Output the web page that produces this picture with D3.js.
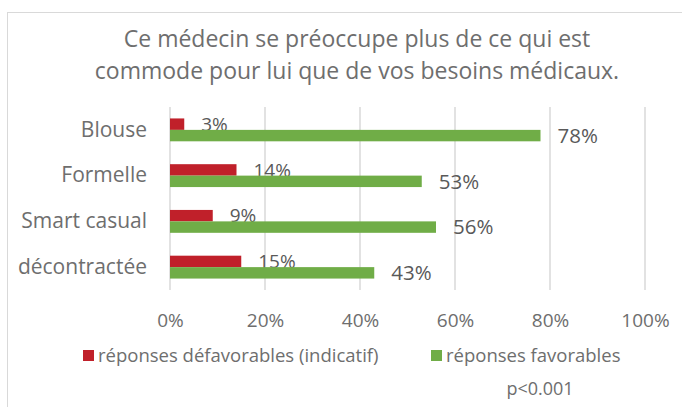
<!DOCTYPE html>
<html>
<head>
<meta charset="utf-8">
<script src="https://cdn.jsdelivr.net/npm/d3@7"></script>
<style>
  body { margin: 0; background: #fff; }
  svg text { font-family: "Open Sans", sans-serif; fill: #6e6e6e; }
  svg .value { fill: #595959; }
</style>
</head>
<body>
<svg id="chart" width="682" height="407"></svg>
<script>
const categories = ['Blouse', 'Formelle', 'Smart casual', 'décontractée'];
const seriesNames = ['réponses défavorables (indicatif)', 'réponses favorables'];
const defavorables = [0.03, 0.14, 0.09, 0.15];
const favorables = [0.78, 0.53, 0.56, 0.43];
const xTicks = [0, 0.2, 0.4, 0.6, 0.8, 1];
const titleLines = ['Ce médecin se préoccupe plus de ce qui est', 'commode pour lui que de vos besoins médicaux.'];
const note = 'p<0.001';

const colors = ['#C0202A', '#70AD47'];
const svg = d3.select('#chart');
const plotLeft = 170, plotRight = 645, plotTop = 107, plotBottom = 290;

// chart area border
svg.append('rect').attr('x', 7.5).attr('y', 12.5).attr('width', 700).attr('height', 420)
  .attr('fill', 'none').attr('stroke', '#d9d9d9');

// title
svg.append('g').selectAll('text').data(titleLines).join('text')
  .attr('x', 357).attr('y', (d, i) => 47 + i * 32)
  .attr('text-anchor', 'middle').style('font-size', '23px')
  .text(d => d);

const x = d3.scaleLinear().domain([0, 1]).range([plotLeft, plotRight]);
const y = d3.scaleBand().domain(categories).range([plotTop, plotBottom]).paddingInner(0.5).paddingOuter(0.25);
const ySub = d3.scaleBand().domain([0, 1]).range([0, y.bandwidth()]);

// gridlines
svg.append('g').selectAll('line').data(xTicks).join('line')
  .attr('x1', d => x(d)).attr('x2', d => x(d))
  .attr('y1', plotTop).attr('y2', plotBottom)
  .attr('stroke', '#d9d9d9').attr('stroke-width', 1.5);

// x axis labels
const xAxis = svg.append('g').attr('transform', `translate(0,${plotBottom})`)
  .call(d3.axisBottom(x).tickValues(xTicks).tickFormat(d3.format('.0%')).tickSize(0).tickPadding(24));
xAxis.select('.domain').remove();
xAxis.selectAll('text').style('font-size', '19px').attr('fill', null);

// y axis labels
const yAxis = svg.append('g').attr('transform', `translate(${plotLeft},0)`)
  .call(d3.axisLeft(y).tickSize(0).tickPadding(23));
yAxis.select('.domain').remove();
yAxis.selectAll('text').style('font-size', '21px').attr('fill', null);

const series = [defavorables, favorables];
const labelSizes = ['19px', '20.5px'];
series.forEach((vals, s) => {
  const g = svg.append('g');
  g.selectAll('rect').data(vals).join('rect')
    .attr('x', x(0))
    .attr('y', (d, i) => y(categories[i]) + ySub(s))
    .attr('width', d => x(d) - x(0))
    .attr('height', ySub.bandwidth())
    .attr('fill', colors[s]);
  g.selectAll('text').data(vals).join('text')
    .attr('class', 'value')
    .attr('x', d => x(d) + 17)
    .attr('y', (d, i) => y(categories[i]) + ySub(s) + ySub.bandwidth() / 2)
    .attr('dy', '0.35em')
    .style('font-size', labelSizes[s])
    .text(d => d3.format('.0%')(d));
});

// legend
const legendX = [83, 431];
const legend = svg.append('g').selectAll('g').data(seriesNames).join('g')
  .attr('transform', (d, i) => `translate(${legendX[i]},350)`);
legend.append('rect').attr('width', 11).attr('height', 11).attr('fill', (d, i) => colors[i]);
legend.append('text').attr('x', 15).attr('y', 11.5).style('font-size', '18.5px').text(d => d);

svg.append('text').attr('x', 540).attr('y', 395).attr('text-anchor', 'middle')
  .style('font-size', '18px').text(note);
</script>
</body>
</html>
